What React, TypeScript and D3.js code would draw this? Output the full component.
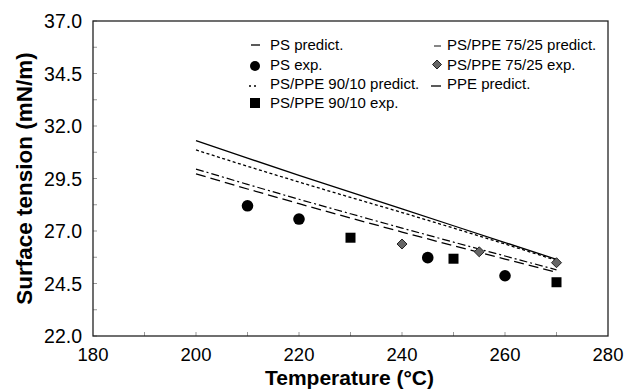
import React from "react";
import * as d3 from "d3";

const temps = [200, 210, 220, 230, 240, 250, 260, 270];
const psPredict = [31.3, 30.47, 29.65, 28.85, 28.05, 27.25, 26.45, 25.65];
const ps9010Predict = [30.86, 30.08, 29.33, 28.6, 27.88, 27.14, 26.38, 25.6];
const ps7525Predict = [29.95, 29.22, 28.51, 27.82, 27.14, 26.47, 25.81, 25.15];
const ppePredict = [29.72, 29.0, 28.3, 27.62, 26.95, 26.3, 25.66, 25.03];

const psExpT = [210, 220, 245, 260];
const psExpV = [28.2, 27.57, 25.73, 24.87];
const ps9010ExpT = [230, 250, 270];
const ps9010ExpV = [26.68, 25.68, 24.56];
const ps7525ExpT = [240, 255, 270];
const ps7525ExpV = [26.38, 26.01, 25.49];

const xTicks = [180, 200, 220, 240, 260, 280];
const yTicks = [22.0, 24.5, 27.0, 29.5, 32.0, 34.5, 37.0];

const W = 628, H = 390;
const x = d3.scaleLinear().domain([180, 280]).range([93, 608]);
const y = d3.scaleLinear().domain([22, 37]).range([336, 21]);

const line = d3.line<[number, number]>().x(d => x(d[0])).y(d => y(d[1]));
const pts = (vals: number[]) => temps.map((t, i) => [t, vals[i]] as [number, number]);

const FONT = "'Liberation Sans', Arial, sans-serif";

export default function App() {
  const minorX = d3.range(190, 280, 10);
  const minorY = d3.range(22, 37.01, 1.25);
  return (
    <svg width={W} height={H} style={{ position: "absolute", left: 0, top: 0, background: "#fff" }} fontFamily={FONT}>
      <rect x={0} y={0} width={W} height={H} fill="#fff" />
      {/* ticks */}
      {minorX.map(t => (
        <line key={"tx" + t} x1={x(t)} x2={x(t)} y1={y(22)} y2={y(22) - 4} stroke="#999" strokeWidth={1} />
      ))}
      {minorY.map(v => (
        <line key={"ty" + v} x1={x(180)} x2={x(180) + 4} y1={y(v)} y2={y(v)} stroke="#999" strokeWidth={1} />
      ))}
      {/* frame */}
      <rect x={x(180)} y={y(37)} width={x(280) - x(180)} height={y(22) - y(37)} fill="none" stroke="#222" strokeWidth={1.3} />

      {/* predicted lines */}
      <path d={line(pts(psPredict)) || ""} fill="none" stroke="#000" strokeWidth={1.3} />
      <path d={line(pts(ps9010Predict)) || ""} fill="none" stroke="#000" strokeWidth={1.3} strokeDasharray="3,2.5" />
      <path d={line(pts(ps7525Predict)) || ""} fill="none" stroke="#000" strokeWidth={1.2} strokeDasharray="8,3,2,3" />
      <path d={line(pts(ppePredict)) || ""} fill="none" stroke="#000" strokeWidth={1.3} strokeDasharray="10,5" />

      {/* experimental points */}
      {psExpT.map((t, i) => (
        <circle key={"c" + i} cx={x(t)} cy={y(psExpV[i])} r={5.8} fill="#000" />
      ))}
      {ps9010ExpT.map((t, i) => (
        <rect key={"s" + i} x={x(t) - 5} y={y(ps9010ExpV[i]) - 5} width={10} height={10} fill="#000" />
      ))}
      {ps7525ExpT.map((t, i) => (
        <path key={"d" + i} d={`M${x(t)},${y(ps7525ExpV[i]) - 5} l5,5 l-5,5 l-5,-5 Z`} fill="#666" stroke="#222" strokeWidth={1} />
      ))}

      {/* tick labels */}
      {xTicks.map(t => (
        <text key={"xl" + t} x={x(t)} y={361} textAnchor="middle" fontSize={18.5} fill="#000">{t}</text>
      ))}
      {yTicks.map(v => (
        <text key={"yl" + v} x={82} y={y(v) + 7} textAnchor="end" fontSize={19.5} fill="#000">{v.toFixed(1)}</text>
      ))}

      {/* axis titles */}
      <text x={(x(180) + x(280)) / 2 - 1} y={385} textAnchor="middle" fontSize={21} fontWeight="bold" fill="#000">Temperature (°C)</text>
      <text transform={`translate(32,${(y(22) + y(37)) / 2}) rotate(-90)`} textAnchor="middle" fontSize={22.5} fontWeight="bold" fill="#000">Surface tension (mN/m)</text>

      {/* legend */}
      <g fontSize={15} fill="#000">
        <line x1={251} x2={260} y1={45} y2={45} stroke="#000" strokeWidth={1.3} />
        <text x={270} y={50}>PS predict.</text>
        <circle cx={255} cy={66} r={5} fill="#000" />
        <text x={270} y={70}>PS exp.</text>
        <line x1={249} x2={259} y1={86} y2={86} stroke="#000" strokeWidth={1.3} strokeDasharray="2,3" />
        <text x={270} y={89}>PS/PPE 90/10 predict.</text>
        <rect x={250} y={98} width={10} height={10} fill="#000" />
        <text x={270} y={108}>PS/PPE 90/10 exp.</text>

        <line x1={434} x2={441} y1={46} y2={46} stroke="#444" strokeWidth={1.3} />
        <text x={447} y={50}>PS/PPE 75/25 predict.</text>
        <path d="M437,60 l4.5,4.5 l-4.5,4.5 l-4.5,-4.5 Z" fill="#666" stroke="#222" strokeWidth={1} />
        <text x={447} y={70}>PS/PPE 75/25 exp.</text>
        <line x1={431} x2={441} y1={86} y2={86} stroke="#000" strokeWidth={1.3} />
        <text x={447} y={89}>PPE predict.</text>
      </g>
    </svg>
  );
}
